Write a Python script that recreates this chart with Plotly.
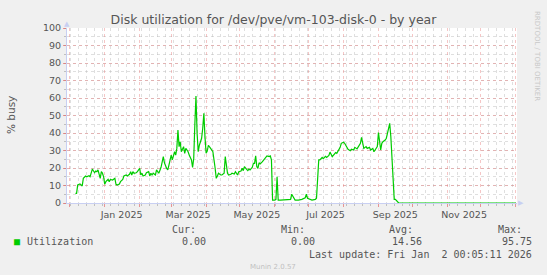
import plotly.graph_objects as go

# ---- data ----
dates = [
    "2024-12-06", "2024-12-07", "2024-12-08", "2024-12-10", "2024-12-12", "2024-12-13", "2024-12-15",
    "2024-12-16", "2024-12-18", "2024-12-19", "2024-12-21", "2024-12-22", "2024-12-23", "2024-12-24",
    "2024-12-25", "2024-12-26", "2024-12-27", "2024-12-28", "2024-12-29", "2024-12-30", "2024-12-31",
    "2025-01-01", "2025-01-02", "2025-01-04", "2025-01-05", "2025-01-06", "2025-01-08", "2025-01-10",
    "2025-01-11", "2025-01-12", "2025-01-14", "2025-01-15", "2025-01-17", "2025-01-18", "2025-01-20",
    "2025-01-21", "2025-01-23", "2025-01-24", "2025-01-25", "2025-01-26", "2025-01-27", "2025-01-29",
    "2025-01-30", "2025-02-01", "2025-02-02", "2025-02-03", "2025-02-04", "2025-02-06", "2025-02-07",
    "2025-02-09", "2025-02-10", "2025-02-11", "2025-02-12", "2025-02-13", "2025-02-15", "2025-02-16",
    "2025-02-18", "2025-02-19", "2025-02-20", "2025-02-22", "2025-02-23", "2025-02-25", "2025-02-26",
    "2025-02-27", "2025-03-01", "2025-03-02", "2025-03-04", "2025-03-05", "2025-03-06", "2025-03-07",
    "2025-03-08", "2025-03-09", "2025-03-10", "2025-03-12", "2025-03-13", "2025-03-14", "2025-03-16",
    "2025-03-17", "2025-03-19", "2025-03-20", "2025-03-21", "2025-03-22", "2025-03-23", "2025-03-24",
    "2025-03-25", "2025-03-26", "2025-03-28", "2025-03-29", "2025-03-30", "2025-03-31", "2025-04-01",
    "2025-04-02", "2025-04-03", "2025-04-05", "2025-04-06", "2025-04-07", "2025-04-09", "2025-04-10",
    "2025-04-11", "2025-04-12", "2025-04-14", "2025-04-15", "2025-04-17", "2025-04-18", "2025-04-20",
    "2025-04-21", "2025-04-23", "2025-04-24", "2025-04-26", "2025-04-27", "2025-04-29", "2025-04-30",
    "2025-05-02", "2025-05-03", "2025-05-04", "2025-05-05", "2025-05-07", "2025-05-08", "2025-05-09",
    "2025-05-10", "2025-05-12", "2025-05-13", "2025-05-14", "2025-05-15", "2025-05-16", "2025-05-17",
    "2025-05-18", "2025-05-19", "2025-05-21", "2025-05-22", "2025-05-24", "2025-05-25", "2025-05-27",
    "2025-05-28", "2025-05-29", "2025-05-30", "2025-06-01", "2025-06-02", "2025-06-03", "2025-06-04",
    "2025-06-06", "2025-06-09", "2025-06-12", "2025-06-15", "2025-06-16", "2025-06-18", "2025-06-19",
    "2025-06-22", "2025-06-25", "2025-06-28", "2025-06-29", "2025-06-30", "2025-07-02", "2025-07-04",
    "2025-07-07", "2025-07-08", "2025-07-10", "2025-07-11", "2025-07-13", "2025-07-14", "2025-07-16",
    "2025-07-17", "2025-07-19", "2025-07-20", "2025-07-22", "2025-07-23", "2025-07-25", "2025-07-26",
    "2025-07-28", "2025-07-29", "2025-07-30", "2025-08-01", "2025-08-02", "2025-08-04", "2025-08-05",
    "2025-08-07", "2025-08-08", "2025-08-10", "2025-08-11", "2025-08-13", "2025-08-14", "2025-08-16",
    "2025-08-17", "2025-08-18", "2025-08-19", "2025-08-21", "2025-08-22", "2025-08-24", "2025-08-25",
    "2025-08-27", "2025-08-28", "2025-08-29", "2025-08-31", "2025-09-01", "2025-09-02", "2025-09-03",
    "2025-09-04", "2025-09-05", "2025-09-07", "2025-09-08", "2025-09-10", "2025-09-11", "2025-09-12",
    "2025-09-13", "2025-09-14", "2025-09-15", "2025-09-16", "2025-09-18", "2025-09-19", "2026-01-01",
]
utilization = [
    5.5, 5.5, 10.3, 10.9, 9.7, 14.1, 15.4,
    15.0, 15.6, 15.0, 19.4, 18.0, 17.3, 18.3,
    17.9, 18.9, 16.0, 14.1, 17.9, 17.0, 14.9,
    10.7, 12.2, 13.5, 12.2, 13.5, 13.1, 14.1,
    10.7, 10.3, 10.9, 12.2, 13.5, 15.4, 16.0,
    15.4, 16.4, 17.9, 16.0, 17.9, 17.0, 17.3,
    17.9, 19.8, 16.0, 17.0, 15.4, 16.0, 17.3,
    17.9, 15.4, 17.0, 16.0, 17.0, 16.0, 18.9,
    17.0, 18.9, 20.4, 26.5, 23.0, 19.8, 18.9,
    21.7, 27.4, 24.6, 29.3, 27.4, 31.2, 41.7,
    32.2, 35.0, 29.3, 32.2, 28.4, 31.2, 29.3,
    27.4, 24.6, 20.4, 25.5, 45.0, 61.1, 39.8,
    29.3, 33.0, 37.0, 42.7, 51.2, 37.9, 28.4,
    29.7, 33.0, 31.2, 30.3, 29.3, 20.0, 14.1,
    15.4, 17.0, 16.0, 16.0, 17.0, 26.5, 17.0,
    16.0, 16.4, 17.0, 16.6, 17.9, 16.0, 17.9,
    18.3, 19.8, 18.5, 20.8, 19.2, 18.5, 19.4,
    18.9, 20.4, 22.7, 22.7, 26.9, 20.8, 19.8,
    23.0, 22.3, 23.6, 24.6, 26.5, 26.9, 26.5,
    26.9, 24.6, 1.7, 1.7, 2.1, 15.0, 1.7,
    1.7, 1.7, 1.7, 2.1, 5.0, 3.0, 1.7,
    1.7, 2.1, 3.0, 5.1, 2.7, 2.1, 1.7,
    2.1, 2.7, 24.6, 24.6, 26.0, 25.3, 26.7,
    26.0, 27.2, 29.1, 26.5, 27.4, 28.8, 28.4,
    30.3, 31.8, 34.1, 34.7, 34.1, 32.2, 30.7,
    29.9, 30.7, 30.3, 31.8, 30.9, 32.2, 34.1,
    37.5, 33.1, 31.2, 32.2, 31.2, 31.8, 30.3,
    31.2, 29.3, 30.3, 32.2, 40.2, 34.1, 30.3,
    34.1, 35.0, 36.0, 37.0, 42.7, 45.5, 37.9,
    24.6, 13.0, 2.1, 2.1, 0.8, 0.0, 0.0,
]

label_dates = ["2025-01-16", "2025-03-16", "2025-05-16", "2025-07-16", "2025-09-16", "2025-11-16"]
label_texts = ["Jan 2025", "Mar 2025", "May 2025", "Jul 2025", "Sep 2025", "Nov 2025"]
y_ticks = [0, 10, 20, 30, 40, 50, 60, 70, 80, 90, 100]

stat_headers = ["Cur:", "Min:", "Avg:", "Max:"]
stat_values = ["0.00", "0.00", "14.56", "95.75"]
series_name = "Utilization"
last_update = "Last update: Fri Jan\u00a0\u00a02 00:05:11 2026"
title_text = "Disk utilization for /dev/pve/vm-103-disk-0 - by year"

x_start = "2024-11-28 12:00"
x_end = "2026-01-02 00:05"

# ---- styles ----
GREEN = "#00CC00"
TXT = "#555555"
AXIS = "#C8CFF2"
MAJ = "rgba(230,120,120,0.42)"
MIN = "rgba(185,185,185,0.45)"
SANS = "DejaVu Sans"
MONO = "DejaVu Sans Mono"

fig = go.Figure()
fig.add_trace(go.Scatter(x=dates, y=utilization, mode="lines",
                         line=dict(color=GREEN, width=1.2), showlegend=False,
                         hoverinfo="skip"))
fig.add_trace(go.Scatter(x=[], y=[], xaxis="x2", showlegend=False))

L, R, T, B = 67, 30, 28, 72
W, H = 547, 275
pw, ph = W - L - R, H - T - B


def px(x):
    return (x - L) / pw


def py(y):
    return (H - B - y) / ph


fig.update_layout(
    width=W, height=H,
    margin=dict(l=L, r=R, t=T, b=B),
    paper_bgcolor="#F0F0F0", plot_bgcolor="#FFFFFF",
    font=dict(family=SANS, color=TXT, size=9.5),
    xaxis=dict(
        type="date", range=[x_start, x_end],
        tick0="2024-12-01", dtick="M1",
        showticklabels=False,
        showgrid=True, gridcolor=MAJ, griddash="dot", gridwidth=1,
        ticks="outside", ticklen=3, tickcolor="rgba(225,110,110,0.7)",
        minor=dict(tick0="2024-12-02", dtick=7 * 86400000, showgrid=True,
                   gridcolor=MIN, griddash="dot", ticks="outside", ticklen=2,
                   tickcolor="rgba(170,170,170,0.7)"),
        showline=True, linecolor=AXIS, linewidth=1,
        zeroline=False, fixedrange=True,
    ),
    xaxis2=dict(
        type="date", overlaying="x", matches="x", side="bottom", anchor="y",
        tickmode="array", tickvals=label_dates, ticktext=label_texts,
        showgrid=False, ticks="", showline=False, zeroline=False,
        tickfont=dict(size=9.5, color=TXT), ticklabelstandoff=4,
    ),
    yaxis=dict(
        range=[0, 100], tickvals=y_ticks,
        showgrid=True, gridcolor=MAJ, griddash="dot", gridwidth=1,
        ticks="outside", ticklen=3, tickcolor="rgba(225,110,110,0.7)",
        minor=dict(dtick=5, showgrid=True, gridcolor=MIN, griddash="dot",
                   ticks="outside", ticklen=2, tickcolor="rgba(170,170,170,0.7)"),
        showline=True, linecolor=AXIS, linewidth=1,
        zeroline=False, fixedrange=True,
        tickfont=dict(size=9.5, color=TXT),
    ),
    title=dict(text=title_text, xref="container", x=0.5, xanchor="center",
               yref="container", y=1 - 20 / H, yanchor="middle",
               font=dict(family=SANS, size=12.5, color=TXT)),
)

ann = []
# y-axis label
ann.append(dict(text="% busy", xref="paper", yref="paper", x=px(10.5), y=0.5,
                textangle=-90, showarrow=False, xanchor="center", yanchor="middle",
                font=dict(family=SANS, size=10.5, color=TXT)))
# axis arrows
ann.append(dict(text="\u25B2", xref="paper", yref="paper", x=0, y=py(24),
                showarrow=False, xanchor="center", yanchor="middle",
                font=dict(size=7, color=AXIS)))
ann.append(dict(text="\u25B6", xref="paper", yref="paper", x=px(521), y=0,
                showarrow=False, xanchor="center", yanchor="middle",
                font=dict(size=7, color=AXIS)))
# watermark
ann.append(dict(text="RRDTOOL / TOBI OETIKER", xref="paper", yref="paper",
                x=px(537), y=py(56), textangle=90, showarrow=False,
                xanchor="center", yanchor="middle",
                font=dict(family=SANS, size=7, color="#C8C8C8")))
# legend swatch + name
ann.append(dict(text="\u25A0", xref="paper", yref="paper", x=px(16.5), y=py(241.5),
                showarrow=False, xanchor="center", yanchor="middle",
                font=dict(family=MONO, size=10, color=GREEN)))
ann.append(dict(text=series_name, xref="paper", yref="paper", x=px(26), y=py(241.5),
                showarrow=False, xanchor="left", yanchor="middle",
                font=dict(family=MONO, size=10, color=TXT)))
head_left = [171, 280, 388, 497]
val_right = [207, 316, 423, 533]
for h, v, hl, vr in zip(stat_headers, stat_values, head_left, val_right):
    ann.append(dict(text=h, xref="paper", yref="paper", x=px(hl), y=py(229),
                    showarrow=False, xanchor="left", yanchor="middle",
                    font=dict(family=MONO, size=10, color=TXT)))
    ann.append(dict(text=v, xref="paper", yref="paper", x=px(vr), y=py(241.5),
                    showarrow=False, xanchor="right", yanchor="middle",
                    font=dict(family=MONO, size=10, color=TXT)))
ann.append(dict(text=last_update, xref="paper", yref="paper", x=px(533), y=py(254),
                showarrow=False, xanchor="right", yanchor="middle",
                font=dict(family=MONO, size=10, color=TXT)))
ann.append(dict(text="Munin 2.0.57", xref="paper", yref="paper", x=px(272.5), y=py(267),
                showarrow=False, xanchor="center", yanchor="middle",
                font=dict(family=SANS, size=7, color="#C0C0C0")))
for a in ann:
    a["borderpad"] = 0
fig.update_layout(annotations=ann)

fig.write_html("out.html")
